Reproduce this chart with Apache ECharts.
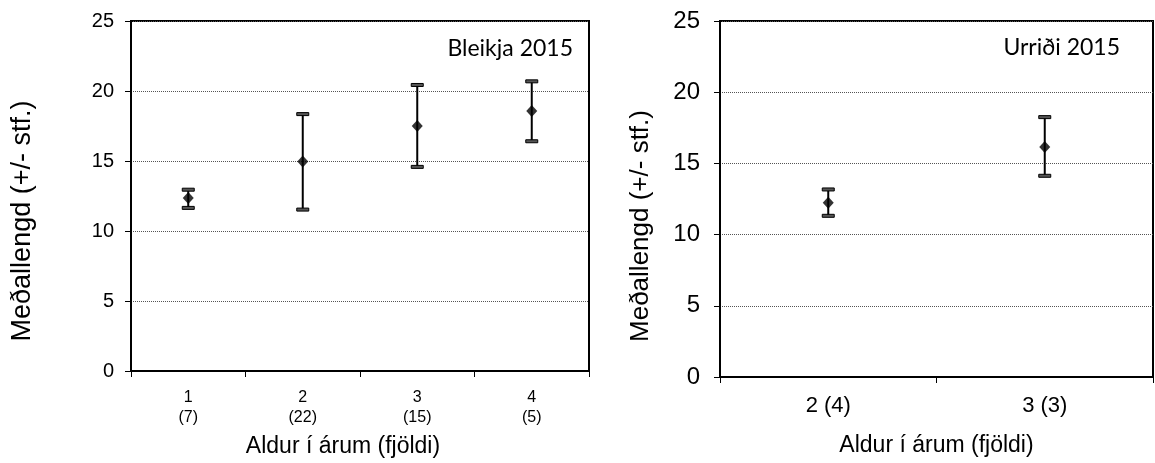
<!DOCTYPE html>
<html>
<head>
<meta charset="utf-8">
<script src="https://cdn.jsdelivr.net/npm/echarts@6/dist/echarts.min.js"></script>
<style>html,body{margin:0;padding:0;background:#fff}#c{width:1155px;height:463px}</style>
</head>
<body>
<div id="c"></div>
<script>
// Left panel: Bleikja 2015
const leftCats = ['1\n(7)', '2\n(22)', '3\n(15)', '4\n(5)'];
const leftMean = [12.35, 14.97, 17.5, 18.57];
const leftUpper = [12.95, 18.35, 20.43, 20.69];
const leftLower = [11.65, 11.53, 14.58, 16.41];
// Right panel: Urriði 2015
const rightCats = ['2 (4)', '3 (3)'];
const rightMean = [12.23, 16.16];
const rightUpper = [13.17, 18.25];
const rightLower = [11.32, 14.13];
const yTitle = 'Meðallengd (+/- stf.)';
const xTitle = 'Aldur í árum (fjöldi)';
const leftLabel = 'Bleikja 2015';
const rightLabel = 'Urriði 2015';

const FONT = 'Liberation Sans, Arial, sans-serif';

function errRender(params, api) {
  const x = api.value(0);
  const pHi = api.coord([x, api.value(1)]);
  const pLo = api.coord([x, api.value(2)]);
  const w = 12;
  return {
    type: 'group',
    children: [
      { type: 'line', shape: { x1: pHi[0], y1: pHi[1], x2: pLo[0], y2: pLo[1] }, style: { stroke: '#000', lineWidth: 2 } },
      { type: 'rect', shape: { x: pHi[0] - w / 2, y: pHi[1] - 1.5, width: w, height: 3 }, style: { fill: '#555', stroke: '#000', lineWidth: 1 } },
      { type: 'rect', shape: { x: pLo[0] - w / 2, y: pLo[1] - 1.5, width: w, height: 3 }, style: { fill: '#555', stroke: '#000', lineWidth: 1 } }
    ]
  };
}

function yAxisCfg(gridIndex, fontSize, margin) {
  return {
    type: 'value', gridIndex, min: 0, max: 25, interval: 5,
    axisLine: { show: true, lineStyle: { color: '#000', width: 2 } },
    axisTick: { show: true, inside: false, length: 6, lineStyle: { color: '#000', width: 1 } },
    axisLabel: { fontFamily: FONT, fontSize, color: '#000', margin },
    splitLine: { show: true, lineStyle: { color: '#555', type: [1, 1], width: 1 } }
  };
}

const chart = echarts.init(document.getElementById('c'), null, { renderer: 'canvas' });
chart.setOption({
  animation: false,
  backgroundColor: '#fff',
  grid: [
    { left: 131, right: 566, top: 21, bottom: 90, show: true, borderColor: '#000', borderWidth: 2, containLabel: false },
    { left: 720, right: 2, top: 21, bottom: 86, show: true, borderColor: '#000', borderWidth: 2, containLabel: false }
  ],
  xAxis: [
    {
      type: 'category', gridIndex: 0, data: leftCats, boundaryGap: true,
      name: xTitle, nameLocation: 'middle', nameGap: 64,
      nameTextStyle: { fontFamily: FONT, fontSize: 23, color: '#000', padding: [0, 34, 0, 0] },
      axisLine: { show: true, lineStyle: { color: '#000', width: 2 } },
      axisTick: { show: true, length: 6, alignWithLabel: false, lineStyle: { color: '#000' } },
      axisLabel: { fontFamily: FONT, fontSize: 16, lineHeight: 20, color: '#000', margin: 17 },
      splitLine: { show: false }
    },
    {
      type: 'category', gridIndex: 1, data: rightCats, boundaryGap: true,
      name: xTitle, nameLocation: 'middle', nameGap: 57,
      nameTextStyle: { fontFamily: FONT, fontSize: 23, color: '#000' },
      axisLine: { show: true, lineStyle: { color: '#000', width: 2 } },
      axisTick: { show: true, length: 6, lineStyle: { color: '#000' } },
      axisLabel: { fontFamily: FONT, fontSize: 22, color: '#000', margin: 18 },
      splitLine: { show: false }
    }
  ],
  yAxis: [
    yAxisCfg(0, 20, 17),
    yAxisCfg(1, 24, 20)
  ],
  series: [
    {
      type: 'custom', xAxisIndex: 0, yAxisIndex: 0, renderItem: errRender,
      encode: { x: 0, y: [1, 2] },
      data: leftCats.map((c, i) => [i, leftUpper[i], leftLower[i]]), z: 2
    },
    {
      type: 'scatter', xAxisIndex: 0, yAxisIndex: 0, symbol: 'diamond', symbolSize: [11, 12],
      itemStyle: { color: '#000' }, data: leftCats.map((c, i) => [i, leftMean[i]]), z: 3
    },
    {
      type: 'custom', xAxisIndex: 1, yAxisIndex: 1, renderItem: errRender,
      encode: { x: 0, y: [1, 2] },
      data: rightCats.map((c, i) => [i, rightUpper[i], rightLower[i]]), z: 2
    },
    {
      type: 'scatter', xAxisIndex: 1, yAxisIndex: 1, symbol: 'diamond', symbolSize: [11, 12],
      itemStyle: { color: '#000' }, data: rightCats.map((c, i) => [i, rightMean[i]]), z: 3
    }
  ],
  graphic: [
    { type: 'text', x: 573, y: 49, style: { text: leftLabel, align: 'right', verticalAlign: 'middle', font: '23px Lato, sans-serif', fill: '#000' } },
    { type: 'text', x: 1120, y: 48, style: { text: rightLabel, align: 'right', verticalAlign: 'middle', font: '23px Lato, sans-serif', fill: '#000' } },
    { type: 'text', x: 23, y: 221, rotation: Math.PI / 2, style: { text: yTitle, align: 'center', verticalAlign: 'middle', font: '27px "Liberation Sans", Arial, sans-serif', fill: '#000' } },
    { type: 'text', x: 641, y: 226, rotation: Math.PI / 2, style: { text: yTitle, align: 'center', verticalAlign: 'middle', font: '26px "Liberation Sans", Arial, sans-serif', fill: '#000' } }
  ]
});
</script>
</body>
</html>
